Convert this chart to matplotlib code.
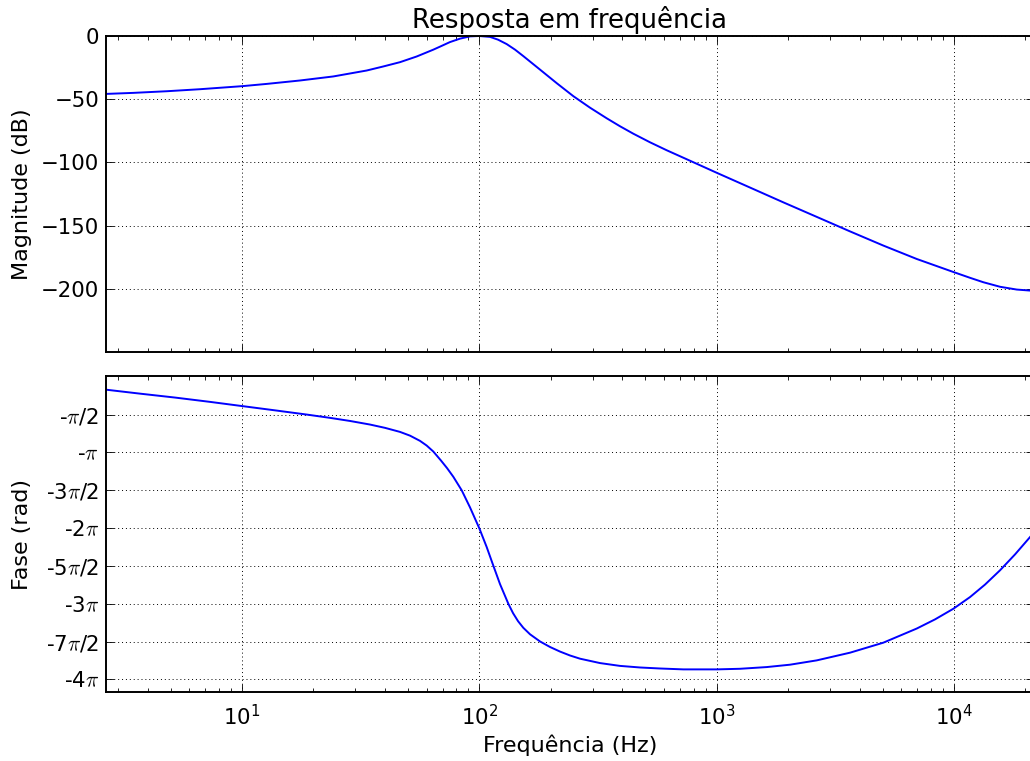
import numpy as np
import matplotlib
matplotlib.use("Agg")
import matplotlib.pyplot as plt

# Frequency response samples: magnitude (Hz, dB)
mag_freq = [2.69, 3.48, 4.82, 6.65, 10.0, 12.71, 17.55, 24.25, 33.53, 39.39, 46.32,
            54.47, 64.0, 68.31, 75.22, 82.90, 91.34, 99.7, 110.9, 119.9, 130.4, 141.4,
            153.2, 180.2, 211.8, 248.9, 292.6, 344.1, 391.4, 445.5, 523.8, 615.9,
            747.7, 1000.0, 1382.0, 1909.0, 2640.0, 3648.0, 5037.0, 6964.0, 9934.0,
            11680.0, 13290.0, 15630.0, 18380.0, 20900.0]
mag_db = [-45.8, -45.0, -43.7, -42.1, -39.7, -37.9, -35.2, -32.0, -27.3, -24.1, -20.7,
          -16.2, -10.8, -8.4, -4.8, -2.1, -0.3, 0.0, -0.7, -2.9, -6.4, -10.8,
          -15.9, -26.6, -37.3, -47.6, -56.7, -65.1, -71.4, -77.3, -84.1, -90.4,
          -97.5, -108.2, -119.9, -131.6, -143.1, -154.6, -165.8, -176.4, -186.7,
          -191.3, -194.8, -198.4, -200.6, -201.4]

# Frequency response samples: phase (Hz, rad)
phase_freq = [2.69, 3.72, 5.22, 7.33, 10.0, 13.77, 18.74, 23.49, 28.52, 34.63, 40.05,
              46.32, 51.05, 56.23, 60.0, 64.0, 68.94, 73.08, 77.69, 84.30, 91.34, 100.0,
              107.4, 114.5, 122.2, 132.5, 138.7, 145.6, 153.2, 163.5, 180.2, 198.5,
              218.8, 241.0, 265.6, 322.4, 391.4, 475.3, 577.2, 723.5, 1000.0, 1254.0,
              1625.0, 2038.0, 2640.0, 3648.0, 5037.0, 6964.0, 8318.0, 9934.0, 11680.0,
              13510.0, 15630.0, 18080.0, 20910.0]
phase_rad = [-0.541, -0.703, -0.865, -1.044, -1.218, -1.396, -1.571, -1.708, -1.837,
             -1.986, -2.123, -2.291, -2.447, -2.663, -2.858, -3.107, -3.481, -3.792,
             -4.154, -4.718, -5.424, -6.296, -7.073, -7.841, -8.609, -9.427, -9.817,
             -10.150, -10.424, -10.693, -10.992, -11.221, -11.412, -11.574, -11.707,
             -11.889, -12.006, -12.072, -12.114, -12.151, -12.151, -12.126, -12.055,
             -11.956, -11.777, -11.457, -11.042, -10.456, -10.075, -9.634, -9.149,
             -8.630, -8.036, -7.376, -6.657]

mag_ticks = [0, -50, -100, -150, -200]
phase_ticks = [-np.pi / 2, -np.pi, -3 * np.pi / 2, -2 * np.pi, -5 * np.pi / 2,
               -3 * np.pi, -7 * np.pi / 2, -4 * np.pi]
phase_labels = [r'-$\pi$/2', r'-$\pi$', r'-3$\pi$/2', r'-2$\pi$', r'-5$\pi$/2',
                r'-3$\pi$', r'-7$\pi$/2', r'-4$\pi$']

plt.rcParams.update({
    'font.family': 'DejaVu Sans',
    'mathtext.fontset': 'cm',
    'font.size': 15.3,
    'axes.labelsize': 16,
    'xtick.direction': 'in',
    'ytick.direction': 'in',
    'xtick.top': True,
    'ytick.right': True,
    'xtick.major.size': 5.5,
    'xtick.minor.size': 2.7,
    'ytick.major.size': 5.5,
    'ytick.minor.size': 2.7,
    'xtick.major.width': 0.6,
    'xtick.minor.width': 0.6,
    'ytick.major.width': 0.6,
    'xtick.major.pad': 8.5,
    'ytick.major.pad': 5,
    'axes.linewidth': 1.4,
})

W, H = 1030, 761
fig = plt.figure(figsize=(W / 100, H / 100), dpi=100)
left, right = 106, 1034
ax1 = fig.add_axes([left / W, (H - 352) / H, (right - left) / W, 316 / H])
ax2 = fig.add_axes([left / W, (H - 692) / H, (right - left) / W, 316 / H], sharex=ax1)

xlim = (10 ** 0.427, 10 ** 4.337)

ax1.semilogx(mag_freq, mag_db, color='#0000ff', linewidth=1.4)
ax1.set_xlim(*xlim)
ax1.set_ylim(-250, 0)
ax1.set_yticks(mag_ticks)
ax1.set_ylabel('Magnitude (dB)')
ax1.set_title('Resposta em frequência', fontsize=18.7, pad=6)
ax1.tick_params(labelbottom=False)

ax2.semilogx(phase_freq, phase_rad, color='#0000ff', linewidth=1.4)
ax2.set_xlim(*xlim)
ax2.set_ylim(-13.09, 0.03)
ax2.set_yticks(phase_ticks)
ax2.set_yticklabels(phase_labels)
ax2.set_ylabel('Fase (rad)')
ax2.set_xlabel('Frequência (Hz)', labelpad=4)

for ax in (ax1, ax2):
    ax.grid(True, which='major', color='k', linestyle=(0, (1, 3)), linewidth=0.7)
    ax.yaxis.set_label_coords(-0.080, 0.5)

fig.savefig('out.png', dpi=100, facecolor='white')
